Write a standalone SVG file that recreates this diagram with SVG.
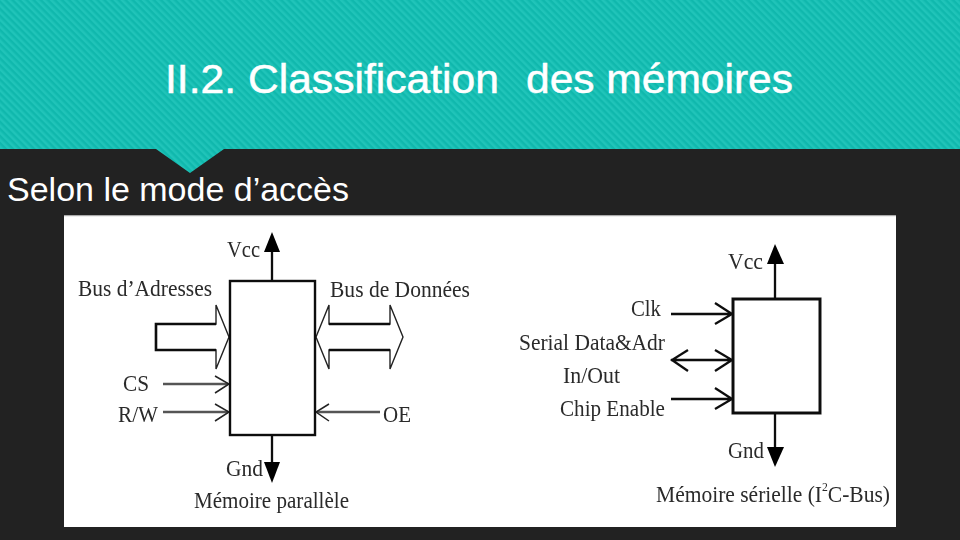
<svg xmlns="http://www.w3.org/2000/svg" width="960" height="540" viewBox="0 0 960 540">
<style>
.t{font-family:"Liberation Serif","Times New Roman",serif;font-size:24px;fill:#2a2a2a}
.box{fill:#fff;stroke:#111;stroke-width:2.4}
.l{stroke:#111;stroke-width:2.3;fill:none}
.g{stroke:#555;stroke-width:2.4;fill:none}
.ah{stroke:#222;stroke-width:1.5;fill:none}
.bus{fill:#fff;stroke:#222;stroke-width:1.4;stroke-linejoin:miter}
.busb{stroke:#111;stroke-width:2.6;fill:none}
.h{fill:#000}
.head{font-family:"Liberation Sans",Arial,sans-serif;fill:#fff}
</style>
<defs>
<pattern id="stripes" width="5" height="5" patternUnits="userSpaceOnUse" patternTransform="rotate(-45)">
<rect width="5" height="5" fill="#10b8ad"/>
<rect width="2.5" height="5" fill="#20c4b9"/>
</pattern>
<filter id="soft" x="0" y="0" width="1" height="1"><feGaussianBlur stdDeviation="0.45"/></filter>
</defs>
<rect width="960" height="540" fill="#222222"/>
<path id="banner" d="M0 0H960V149H224L190 173L156 149H0Z" fill="url(#stripes)"/>
<text class="head" x="165" y="93" font-size="41" stroke="#fff" stroke-width="0.5" textLength="334" lengthAdjust="spacingAndGlyphs">II.2. Classification</text>
<text class="head" x="526" y="93" font-size="41" stroke="#fff" stroke-width="0.5" textLength="267" lengthAdjust="spacingAndGlyphs">des mémoires</text>
<text class="head" x="7" y="201" font-size="33" textLength="342" lengthAdjust="spacingAndGlyphs">Selon le mode d’accès</text>
<rect id="panel" x="64" y="215" width="832" height="312" fill="#fff"/>
<rect x="64" y="215" width="832" height="1.2" fill="#aaa"/>

<g filter="url(#soft)">
<g id="connectors">
<path class="l" d="M272 281V245"/><path class="h" d="M272 232L280 252H264Z"/>
<path class="l" d="M272 435V468"/><path class="h" d="M272 483L280 462H264Z"/>
<path class="bus" d="M156 324H216V305L229 337L216 369V350H156Z"/>
<path class="busb" d="M216 324H156V350H216"/>
<path class="bus" d="M316 337L329 305V324H390V305L403 337L390 369V350H329V369Z"/>
<path class="busb" d="M329 324H390M329 350H390"/>
<path class="g" d="M163 384H228"/><path class="ah" d="M215 376L229 384L215 393"/>
<path class="g" d="M163 412H228"/><path class="ah" d="M215 404L229 412L215 421"/>
<path class="g" d="M380 412H317"/><path class="ah" d="M329 404L316 412L329 421"/>
<path class="l" d="M775 299V260"/><path class="h" d="M775 244L784 264H767Z"/>
<path class="l" d="M775 413V450"/><path class="h" d="M775 467L784 447H767Z"/>
<path class="l" d="M671 314H731M715 303L732 314L715 324"/>
<path class="l" d="M671 360H731M715 350L732 360L715 371M688 350L672 360L688 371"/>
<path class="l" d="M671 399H731M715 388L732 399L715 409"/>
</g>

<g id="node-parallel"><rect class="box" x="230" y="281" width="85" height="154"/></g>
<g id="node-serial"><rect class="box" x="733" y="299" width="87" height="114" style="stroke-width:3"/></g>

<g id="labels-parallel">
<text class="t" x="227" y="257" textLength="33" lengthAdjust="spacingAndGlyphs">Vcc</text>
<text class="t" x="78" y="296" textLength="134" lengthAdjust="spacingAndGlyphs">Bus d’Adresses</text>
<text class="t" x="330" y="297" textLength="140" lengthAdjust="spacingAndGlyphs">Bus de Données</text>
<text class="t" x="123" y="391" textLength="26" lengthAdjust="spacingAndGlyphs">CS</text>
<text class="t" x="118" y="422" textLength="40" lengthAdjust="spacingAndGlyphs">R/W</text>
<text class="t" x="383" y="422" textLength="28" lengthAdjust="spacingAndGlyphs">OE</text>
<text class="t" x="226" y="476" textLength="37" lengthAdjust="spacingAndGlyphs">Gnd</text>
<text class="t" x="194" y="508" textLength="155" lengthAdjust="spacingAndGlyphs">Mémoire parallèle</text>
</g>
<g id="labels-serial">
<text class="t" x="728" y="269" textLength="35" lengthAdjust="spacingAndGlyphs">Vcc</text>
<text class="t" x="631" y="316" textLength="30" lengthAdjust="spacingAndGlyphs">Clk</text>
<text class="t" x="519" y="350" textLength="146" lengthAdjust="spacingAndGlyphs">Serial Data&amp;Adr</text>
<text class="t" x="563" y="383" textLength="57" lengthAdjust="spacingAndGlyphs">In/Out</text>
<text class="t" x="560" y="416" textLength="105" lengthAdjust="spacingAndGlyphs">Chip Enable</text>
<text class="t" x="728" y="458" textLength="36" lengthAdjust="spacingAndGlyphs">Gnd</text>
<text class="t" x="656" y="502" textLength="234" lengthAdjust="spacingAndGlyphs">Mémoire sérielle (I<tspan dy="-11" style="font-size:13px">2</tspan><tspan dy="11">C-Bus)</tspan></text>
</g>
</g>
</svg>
